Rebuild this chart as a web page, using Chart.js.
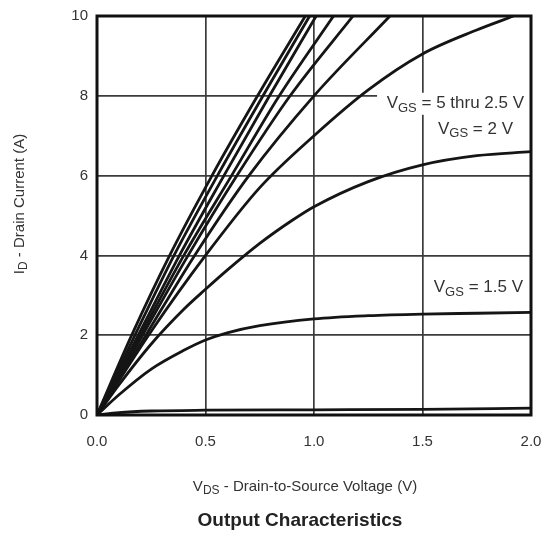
<!DOCTYPE html>
<html>
<head>
<meta charset="utf-8">
<script src="https://cdn.jsdelivr.net/npm/chart.js@4/dist/chart.umd.min.js"></script>
<style>
  html, body { margin: 0; padding: 0; background: #fff; }
  canvas { display: block; }
</style>
</head>
<body>
<canvas id="chartOutput" width="546" height="536"></canvas>
<script>
// tick labels
const xTicks = [0, 0.5, 1.0, 1.5, 2.0];
const yTicks = [0, 2, 4, 6, 8, 10];

// steep curves (VGS = 5 thru 2.5 V), read as VDS where ID crosses each grid level
const idLevels = [0, 2, 4, 6, 8, 10];
const vdsCurve1 = [0, 0.16, 0.335, 0.53, 0.74, 0.96];
const vdsCurve2 = [0, 0.175, 0.355, 0.555, 0.765, 0.98];
const vdsCurve3 = [0, 0.19, 0.38, 0.585, 0.795, 1.01];
const vdsCurve4 = [0, 0.20, 0.40, 0.62, 0.84, 1.09];
const vdsCurve5 = [0, 0.21, 0.42, 0.645, 0.89, 1.18];
const vdsCurve6 = [0, 0.225, 0.45, 0.70, 1.00, 1.35];

// lowest of the 5 thru 2.5 V group
const vdsCurve7 = [0, 0.25, 0.5, 0.75, 1.0, 1.25, 1.5, 1.75, 1.92];
const idCurve7 = [0, 2.1, 4.0, 5.7, 7.0, 8.15, 9.05, 9.65, 10];

// VGS = 2 V
const vds2V = [0, 0.1, 0.25, 0.4, 0.5, 0.6, 0.75, 0.9, 1.0, 1.25, 1.5, 1.75, 2.0];
const id2V = [0, 0.75, 1.78, 2.65, 3.15, 3.63, 4.3, 4.88, 5.22, 5.85, 6.27, 6.5, 6.6];

// VGS = 1.5 V
const vds15V = [0, 0.1, 0.25, 0.4, 0.5, 0.6, 0.75, 1.0, 1.25, 1.5, 1.75, 2.0];
const id15V = [0, 0.5, 1.15, 1.62, 1.88, 2.06, 2.24, 2.41, 2.49, 2.53, 2.55, 2.57];

// bottom curve
const vdsLow = [0, 0.1, 0.25, 0.5, 1.0, 1.5, 2.0];
const idLow = [0, 0.06, 0.1, 0.12, 0.13, 0.14, 0.17];

const toPoints = (xs, ys) => xs.map((x, i) => ({ x, y: ys[i] }));

const curves = [
    toPoints(vdsCurve1, idLevels),
    toPoints(vdsCurve2, idLevels),
    toPoints(vdsCurve3, idLevels),
    toPoints(vdsCurve4, idLevels),
    toPoints(vdsCurve5, idLevels),
    toPoints(vdsCurve6, idLevels),
    toPoints(vdsCurve7, idCurve7),
    toPoints(vds2V, id2V),
    toPoints(vds15V, id15V),
    toPoints(vdsLow, idLow)
];

const FONT = '"Liberation Sans", Arial, sans-serif';

// draw text with subscript parts
const drawRich = (ctx, parts, x, y, size, align, weight) => {
    const w = weight || 'normal';
    const fontOf = p => `${w} ${p.sub ? Math.round(size * 0.78) : size}px ${FONT}`;
    let total = 0;
    parts.forEach(p => { ctx.font = fontOf(p); total += ctx.measureText(p.t).width; });
    let cx = align === 'right' ? x - total : align === 'center' ? x - total / 2 : x;
    ctx.textAlign = 'left';
    parts.forEach(p => {
        ctx.font = fontOf(p);
        ctx.fillText(p.t, cx, y + (p.sub ? size * 0.22 : 0));
        cx += ctx.measureText(p.t).width;
    });
    return total;
};

const textPlugin = {
    id: 'textPlugin',
    afterDatasetsDraw(chart) {
        const { ctx, scales, chartArea } = chart;
        const sx = scales.x, sy = scales.y;
        ctx.save();
        ctx.textBaseline = 'alphabetic';

        // label box behind first annotation
        const lx = sx.getPixelForValue(1.968), ly = sy.getPixelForValue(7.7);
        ctx.fillStyle = '#fff';
        ctx.fillRect(lx - 147, ly - 15, chartArea.right - (lx - 147), 22);
        ctx.fillStyle = '#333';
        drawRich(ctx, [{ t: 'V' }, { t: 'GS', sub: true }, { t: ' = 5 thru 2.5 V' }], lx, ly, 17, 'right');

        drawRich(ctx, [{ t: 'V' }, { t: 'GS', sub: true }, { t: ' = 2 V' }],
            sx.getPixelForValue(1.917), sy.getPixelForValue(7.05), 17, 'right');
        drawRich(ctx, [{ t: 'V' }, { t: 'GS', sub: true }, { t: ' = 1.5 V' }],
            sx.getPixelForValue(1.963), sy.getPixelForValue(3.075), 17, 'right');

        // axis titles
        drawRich(ctx, [{ t: 'V' }, { t: 'DS', sub: true }, { t: ' - Drain-to-Source Voltage (V)' }], 305, 491, 15, 'center');
        ctx.fillStyle = '#222';
        drawRich(ctx, [{ t: 'Output Characteristics' }], 300, 526, 19, 'center', 'bold');
        ctx.fillStyle = '#333';
        ctx.translate(24, 204);
        ctx.rotate(-Math.PI / 2);
        drawRich(ctx, [{ t: 'I' }, { t: 'D', sub: true }, { t: ' - Drain Current (A)' }], 0, 0, 15, 'center');
        ctx.restore();
    },
    afterDraw(chart) {
        const { ctx, chartArea } = chart;
        ctx.save();
        ctx.strokeStyle = '#111';
        ctx.lineWidth = 3;
        ctx.strokeRect(chartArea.left, chartArea.top, chartArea.right - chartArea.left, chartArea.bottom - chartArea.top);
        ctx.restore();
    }
};

new Chart(document.getElementById('chartOutput'), {
    type: 'scatter',
    data: {
        datasets: curves.map(pts => ({
            data: pts,
            showLine: true,
            borderColor: '#151515',
            borderWidth: 2.8,
            pointRadius: 0,
            cubicInterpolationMode: 'monotone',
            fill: false
        }))
    },
    options: {
        responsive: false,
        animation: false,
        layout: { padding: { left: 0, right: 15, top: 16, bottom: 0 } },
        plugins: { legend: { display: false }, tooltip: { enabled: false } },
        scales: {
            x: {
                type: 'linear', min: 0, max: 2,
                afterBuildTicks: scale => { scale.ticks = xTicks.map(v => ({ value: v })); },
                afterFit: scale => {
                    scale.height = 121;
                    scale.paddingLeft = 0;
                    scale.paddingRight = 0;
                },
                grid: { color: '#3c3c3c', lineWidth: 1.7, drawTicks: false },
                border: { display: false },
                ticks: {
                    padding: 18, color: '#333',
                    font: { family: FONT, size: 15 },
                    callback: v => Number(v).toFixed(1)
                }
            },
            y: {
                type: 'linear', min: 0, max: 10,
                afterBuildTicks: scale => { scale.ticks = yTicks.map(v => ({ value: v })); },
                afterFit: scale => {
                    scale.width = 97;
                    scale.paddingTop = 0;
                    scale.paddingBottom = 0;
                },
                grid: { color: '#3c3c3c', lineWidth: 1.7, drawTicks: false },
                border: { display: false },
                ticks: {
                    padding: 9, color: '#333',
                    font: { family: FONT, size: 15 },
                    callback: v => String(v)
                }
            }
        }
    },
    plugins: [textPlugin]
});
</script>
</body>
</html>
